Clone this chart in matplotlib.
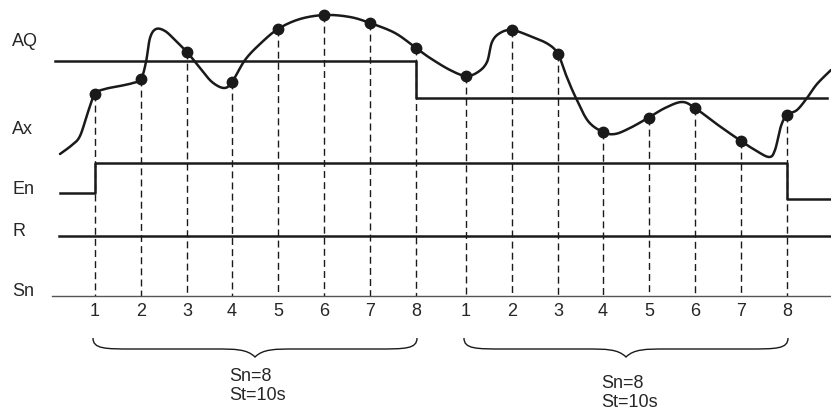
import numpy as np
import matplotlib
matplotlib.use("Agg")
import matplotlib.pyplot as plt
from matplotlib.path import Path
from matplotlib.patches import PathPatch

# ---- data (diagram coordinates, pixel-like units, y grows downward) ----
row_labels = ["AQ", "Ax", "En", "R", "Sn"]
row_label_y = [41, 129, 189, 231, 292]

sample_ticks = ["1", "2", "3", "4", "5", "6", "7", "8"]
group1_x = [95, 141, 187, 232, 278, 324, 370, 416]
group2_x = [466, 512, 558, 603, 649, 695, 741, 787]
group1_ax = [94, 79, 52, 82, 29, 15, 23, 48]
group2_ax = [76, 30, 54, 132, 118, 108, 141, 115]

# analog input Ax curve control points
curve_x = [60, 72, 80, 88, 95, 105, 120, 133, 141, 146, 150, 156, 165, 175, 187,
           200, 212, 224, 232, 245, 260, 278, 300, 325, 350, 370, 395, 416, 430,
           450, 466, 478, 487, 492, 500, 512, 530, 548, 558, 566, 575, 588, 603,
           615, 630, 648, 665, 682, 695, 718, 741, 755, 769, 775, 781, 787, 797,
           807, 817, 831]
curve_y = [154, 145, 136, 112, 94, 89, 86, 83, 79, 62, 38, 29, 31, 40, 52,
           68, 82, 88, 82, 60, 44, 29, 19, 15, 17, 23, 33, 48, 58,
           70, 76, 72, 62, 42, 33, 30, 36, 44, 54, 75, 96, 121, 132,
           134, 128, 118, 108, 102, 108, 125, 141, 150, 157, 150, 126, 115, 110,
           98, 84, 70]

# AQ output step: (x, y) breakpoints
aq_x = [55, 416, 416, 827]
aq_y = [61, 61, 98, 98]
# En step
en_x = [60, 95, 95, 787, 787, 831]
en_y = [193, 193, 163, 163, 199, 199]
# R line
r_x = [59, 831]
r_y = [236, 236]
# Sn axis
sn_axis_x = [52, 831]
sn_axis_y = 296
tick_label_y = 312

group_text = ["Sn=8\nSt=10s", "Sn=8\nSt=10s"]
group_text_pos = [(229, 386), (601, 393)]
brace_spans = [(93, 417, 255), (464, 788, 626)]

# ---- drawing ----
W, H = 831, 416
fig = plt.figure(figsize=(W / 100, H / 100), dpi=100)
ax = fig.add_axes([0, 0, 1, 1])
ax.set_xlim(0, W)
ax.set_ylim(H, 0)
ax.axis("off")

ink = "#1a1a1a"
txt_color = "#262626"
font = "Liberation Sans"
fs = 13


def catmull_rom(xs, ys, n=20):
    pts = np.column_stack([xs, ys]).astype(float)
    pts = np.vstack([pts[0], pts, pts[-1]])
    out = []
    for i in range(1, len(pts) - 2):
        p0, p1, p2, p3 = pts[i - 1], pts[i], pts[i + 1], pts[i + 2]
        t = np.linspace(0, 1, n, endpoint=False)[:, None]
        seg = 0.5 * ((2 * p1) + (-p0 + p2) * t + (2 * p0 - 5 * p1 + 4 * p2 - p3) * t ** 2
                     + (-p0 + 3 * p1 - 3 * p2 + p3) * t ** 3)
        out.append(seg)
    out.append(pts[-2][None, :])
    out = np.vstack(out)
    return out[:, 0], out[:, 1]


# Sn axis
ax.plot(sn_axis_x, [sn_axis_y, sn_axis_y], color="#555555", lw=1.0, zorder=2)

# dashed sample lines
all_x = group1_x + group2_x
all_y = group1_ax + group2_ax
for x, y in zip(all_x, all_y):
    ax.plot([x, x], [y, sn_axis_y], color=ink, lw=1.0, ls=(0, (5, 3)), zorder=1)

# tick labels
for gx in (group1_x, group2_x):
    for x, lab in zip(gx, sample_ticks):
        ax.text(x, tick_label_y, lab, ha="center", va="center", fontsize=fs,
                family=font, color=txt_color)

# step lines
ax.plot(aq_x, aq_y, color=ink, lw=1.8, zorder=3)
ax.plot(en_x, en_y, color=ink, lw=1.8, zorder=3)
ax.plot(r_x, r_y, color=ink, lw=1.8, zorder=3)

# Ax curve
cx, cy = catmull_rom(curve_x, curve_y)
ax.plot(cx, cy, color=ink, lw=1.8, zorder=4, solid_capstyle="round")
ax.plot(all_x, all_y, "o", color=ink, ms=7.5, zorder=5)

# row labels
for lab, y in zip(row_labels, row_label_y):
    ax.text(12, y, lab, ha="left", va="center", fontsize=fs, family=font, color=txt_color)

# braces
for (x0, x1, xm) in brace_spans:
    top, mid, tip = 338, 349, 357
    verts = [
        (x0, top), (x0, mid), (x0 + 12, mid), (x0 + 40, mid),
        (xm - 40, mid), (xm - 20, mid), (xm - 8, mid), (xm, tip),
        (xm + 8, mid), (xm + 20, mid), (xm + 40, mid),
        (x1 - 40, mid), (x1 - 12, mid), (x1, mid), (x1, top),
    ]
    codes = [Path.MOVETO, Path.CURVE4, Path.CURVE4, Path.CURVE4,
             Path.LINETO, Path.CURVE4, Path.CURVE4, Path.CURVE4,
             Path.CURVE4, Path.CURVE4, Path.CURVE4,
             Path.LINETO, Path.CURVE4, Path.CURVE4, Path.CURVE4]
    ax.add_patch(PathPatch(Path(verts, codes), fill=False, ec=ink, lw=1.0))

for txt, (x, y) in zip(group_text, group_text_pos):
    ax.text(x, y, txt, ha="left", va="center", fontsize=fs, family=font,
            color=txt_color, linespacing=1.15)

fig.savefig("out.png", dpi=100)
